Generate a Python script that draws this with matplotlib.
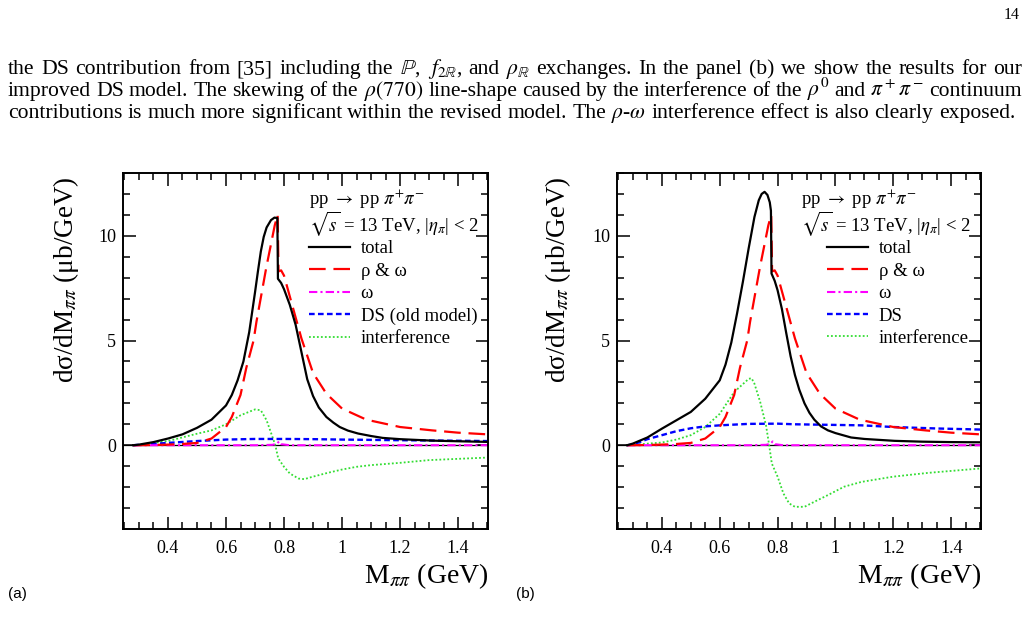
import matplotlib.pyplot as plt
from matplotlib.ticker import MultipleLocator, FuncFormatter

plt.rcParams['font.family'] = ['Liberation Serif', 'DejaVu Serif']
plt.rcParams['mathtext.fontset'] = 'stix'

W, H = 1028, 624

# rho & omega and omega alone (same in both panels)
rho_x = [0.28, 0.35, 0.40, 0.45, 0.50, 0.55, 0.60, 0.62, 0.65, 0.67, 0.695, 0.705, 0.722, 0.739,
         0.755, 0.768, 0.778, 0.781, 0.79, 0.80, 0.83, 0.86, 0.90, 0.946, 1.0, 1.084, 1.2, 1.31, 1.4, 1.5]
rho_y = [0.0, 0.01, 0.03, 0.06, 0.11, 0.32, 0.87, 1.35, 2.4, 3.7, 5.0, 5.9, 7.2, 8.5,
         9.6, 10.5, 11.0, 8.3, 8.35, 8.1, 6.6, 5.1, 3.45, 2.46, 1.75, 1.22, 0.87, 0.71, 0.6, 0.52]
omega_x = [0.28, 0.70, 0.76, 0.775, 0.783, 0.79, 0.82, 1.5]
omega_y = [0.0, 0.0, 0.02, 0.07, 0.18, 0.05, 0.0, 0.0]

# panel (a): old DS model
tot_a_x = [0.28, 0.30, 0.35, 0.40, 0.45, 0.50, 0.55, 0.60, 0.62, 0.64, 0.66, 0.68, 0.69, 0.70, 0.71,
           0.72, 0.73, 0.74, 0.755, 0.767, 0.777, 0.779, 0.79, 0.80, 0.82, 0.84, 0.86, 0.88, 0.90, 0.92,
           0.946, 0.97, 0.992, 1.02, 1.055, 1.10, 1.14, 1.20, 1.31, 1.40, 1.50]
tot_a_y = [0.0, 0.03, 0.15, 0.32, 0.52, 0.83, 1.22, 1.9, 2.4, 3.1, 4.0, 5.4, 6.35, 7.3, 8.3,
           9.25, 9.95, 10.4, 10.75, 10.87, 10.85, 7.95, 7.75, 7.45, 6.7, 5.75, 4.45, 3.15, 2.35, 1.8,
           1.35, 1.08, 0.87, 0.7, 0.56, 0.44, 0.35, 0.29, 0.22, 0.19, 0.16]
ds_a_x = [0.28, 0.30, 0.40, 0.50, 0.60, 0.70, 0.80, 0.90, 1.0, 1.2, 1.5]
ds_a_y = [0.0, 0.02, 0.11, 0.2, 0.27, 0.3, 0.3, 0.29, 0.27, 0.24, 0.2]
int_a_x = [0.28, 0.30, 0.40, 0.50, 0.55, 0.60, 0.65, 0.70, 0.72, 0.74, 0.76, 0.77, 0.78, 0.80, 0.82,
           0.85, 0.87, 0.90, 0.95, 1.0, 1.05, 1.1, 1.2, 1.3, 1.4, 1.5]
int_a_y = [0.0, 0.02, 0.2, 0.55, 0.71, 1.0, 1.43, 1.71, 1.67, 1.19, 0.4, 0.0, -0.63, -1.03, -1.35,
           -1.59, -1.62, -1.5, -1.32, -1.16, -1.03, -0.95, -0.84, -0.71, -0.65, -0.59]

# panel (b): improved DS model
tot_b_x = [0.28, 0.30, 0.35, 0.40, 0.45, 0.50, 0.55, 0.60, 0.62, 0.64, 0.66, 0.68, 0.70, 0.72, 0.735,
           0.745, 0.755, 0.765, 0.773, 0.777, 0.779, 0.79, 0.80, 0.815, 0.83, 0.845, 0.86, 0.875, 0.893, 0.91,
           0.927, 0.95, 0.974, 1.0, 1.054, 1.1, 1.204, 1.3, 1.4, 1.5]
tot_b_y = [0.0, 0.08, 0.37, 0.79, 1.19, 1.59, 2.22, 3.1, 3.85, 4.9, 6.3, 7.8, 9.4, 10.9, 11.7,
           12.0, 12.1, 11.95, 11.6, 11.2, 8.2, 7.85, 7.4, 6.5, 5.35, 4.25, 3.35, 2.65, 2.0, 1.55,
           1.22, 0.9, 0.71, 0.58, 0.37, 0.3, 0.21, 0.17, 0.15, 0.14]
ds_b_x = [0.28, 0.30, 0.35, 0.40, 0.45, 0.50, 0.55, 0.60, 0.70, 0.80, 0.86, 1.0, 1.09, 1.2, 1.35, 1.5]
ds_b_y = [0.0, 0.03, 0.29, 0.48, 0.67, 0.81, 0.9, 0.95, 1.02, 1.03, 1.0, 0.97, 0.95, 0.87, 0.8, 0.75]
int_b_x = [0.28, 0.30, 0.40, 0.45, 0.50, 0.55, 0.60, 0.65, 0.70, 0.71, 0.72, 0.74, 0.76, 0.77, 0.78,
           0.79, 0.80, 0.82, 0.84, 0.86, 0.893, 0.927, 0.974, 1.03, 1.09, 1.2, 1.32, 1.5]
int_b_y = [0.0, 0.02, 0.13, 0.27, 0.48, 0.87, 1.5, 2.54, 3.17, 3.2, 2.94, 2.06, 0.95, 0.08, -0.87,
           -1.19, -1.5, -2.3, -2.78, -2.94, -2.94, -2.7, -2.38, -1.98, -1.75, -1.5, -1.32, -1.11]

labels_a = ['total', r'ρ & ω', 'ω', 'DS (old model)', 'interference']
labels_b = ['total', r'ρ & ω', 'ω', 'DS', 'interference']

page_lines = [
    r"the DS contribution from [35] including the $\mathbb{P}$, $f_{2\mathbb{R}}$, and $\rho_{\mathbb{R}}$ exchanges. In the panel (b) we show the results for our",
    r"improved DS model. The skewing of the $\rho(770)$ line-shape caused by the interference of the $\rho^0$ and $\pi^+\pi^-$ continuum",
    r"contributions is much more significant within the revised model. The $\rho$-$\omega$ interference effect is also clearly exposed.",
]

fig = plt.figure(figsize=(W / 100, H / 100), dpi=100)
axa = fig.add_axes([123 / W, 1 - 529 / H, 365 / W, 356 / H])
axb = fig.add_axes([617 / W, 1 - 529 / H, 364 / W, 356 / H])


def draw(ax, tx, ty, dx, dy, ix, iy, labels, lx, tx0):
    ax.axhline(0, color='black', lw=0.9)
    li, = ax.plot(ix, iy, color='#33dd33', lw=1.3, dashes=(1, 1.2))
    ld, = ax.plot(dx, dy, color='#0000ff', lw=1.7, dashes=(2.4, 1.4))
    lo, = ax.plot(omega_x, omega_y, color='#ff00ff', lw=1.5, dashes=(4, 1.5, 1, 1.5))
    lr, = ax.plot(rho_x, rho_y, color='#ff0000', lw=1.6, dashes=(7.5, 3.5))
    lt, = ax.plot(tx, ty, color='black', lw=1.6)
    ax.set_xlim(0.245, 1.503)
    ax.set_ylim(-4, 13)
    ax.xaxis.set_major_locator(MultipleLocator(0.2))
    ax.xaxis.set_minor_locator(MultipleLocator(0.05))
    ax.yaxis.set_major_locator(MultipleLocator(5))
    ax.yaxis.set_minor_locator(MultipleLocator(1))
    ax.xaxis.set_major_formatter(FuncFormatter(lambda v, p: f'{v:g}'))
    ax.tick_params(which='both', direction='in', top=True, right=True, labelsize=13, width=1.1)
    ax.tick_params(which='major', length=9)
    ax.tick_params(which='minor', length=5)
    ax.tick_params(axis='x', pad=8)
    ax.tick_params(axis='y', pad=5)
    for s in ax.spines.values():
        s.set_linewidth(1.4)
    ax.text(tx0, 0.927, r'pp $\rightarrow$ pp $\pi^{+}\pi^{-}$', transform=ax.transAxes,
            fontsize=13.5, va='center')
    ax.text(tx0, 0.857, r'$\sqrt{s}$ = 13 TeV, |$\eta_{\pi}$| < 2', transform=ax.transAxes,
            fontsize=13.5, va='center')
    ax.legend([lt, lr, lo, ld, li], labels, loc='upper left', bbox_to_anchor=(lx, 0.811),
              frameon=False, fontsize=13.5, handlelength=2.2, handletextpad=0.55,
              labelspacing=0.28, borderpad=0, borderaxespad=0)


draw(axa, tot_a_x, tot_a_y, ds_a_x, ds_a_y, int_a_x, int_a_y, labels_a, 0.51, 0.51)
draw(axb, tot_b_x, tot_b_y, ds_b_x, ds_b_y, int_b_x, int_b_y, labels_b, 0.577, 0.505)

ylab = r'dσ/dM$_{\pi\pi}$ (μb/GeV)'
xlab = r'M$_{\pi\pi}$ (GeV)'
fig.text(66 / W, 1 - 176 / H, ylab, rotation=90, ha='center', va='top', fontsize=19.5)
fig.text(558 / W, 1 - 176 / H, ylab, rotation=90, ha='center', va='top', fontsize=19.5)
fig.text(488 / W, 1 - 583 / H, xlab, ha='right', va='baseline', fontsize=20)
fig.text(981 / W, 1 - 583 / H, xlab, ha='right', va='baseline', fontsize=20)
fig.text(8 / W, 1 - 598 / H, '(a)', family='Liberation Sans', fontsize=11)
fig.text(516 / W, 1 - 598 / H, '(b)', family='Liberation Sans', fontsize=11)
fig.text(1020 / W, 1 - 19 / H, '14', ha='right', fontsize=11.5)

# justified paragraph above the figure; size chosen so the last line fits naturally
r = fig.canvas.get_renderer()
probe = fig.text(0, 0, page_lines[2], fontsize=10)
size = 10 * 1007 / probe.get_window_extent(r).width
probe.remove()
for i, line in enumerate(page_lines):
    words = line.split(' ')
    y = 1 - (74 + 22 * i) / H
    ts = [fig.text(0, y, w, fontsize=size) for w in words]
    ws = [t.get_window_extent(r).width for t in ts]
    x1 = 1022 if i < 2 else 1015
    gap = (x1 - 8 - sum(ws)) / (len(words) - 1)
    x = 8
    for t, w in zip(ts, ws):
        t.set_x(x / W)
        x += w + gap

fig.savefig('out.png', dpi=100)
